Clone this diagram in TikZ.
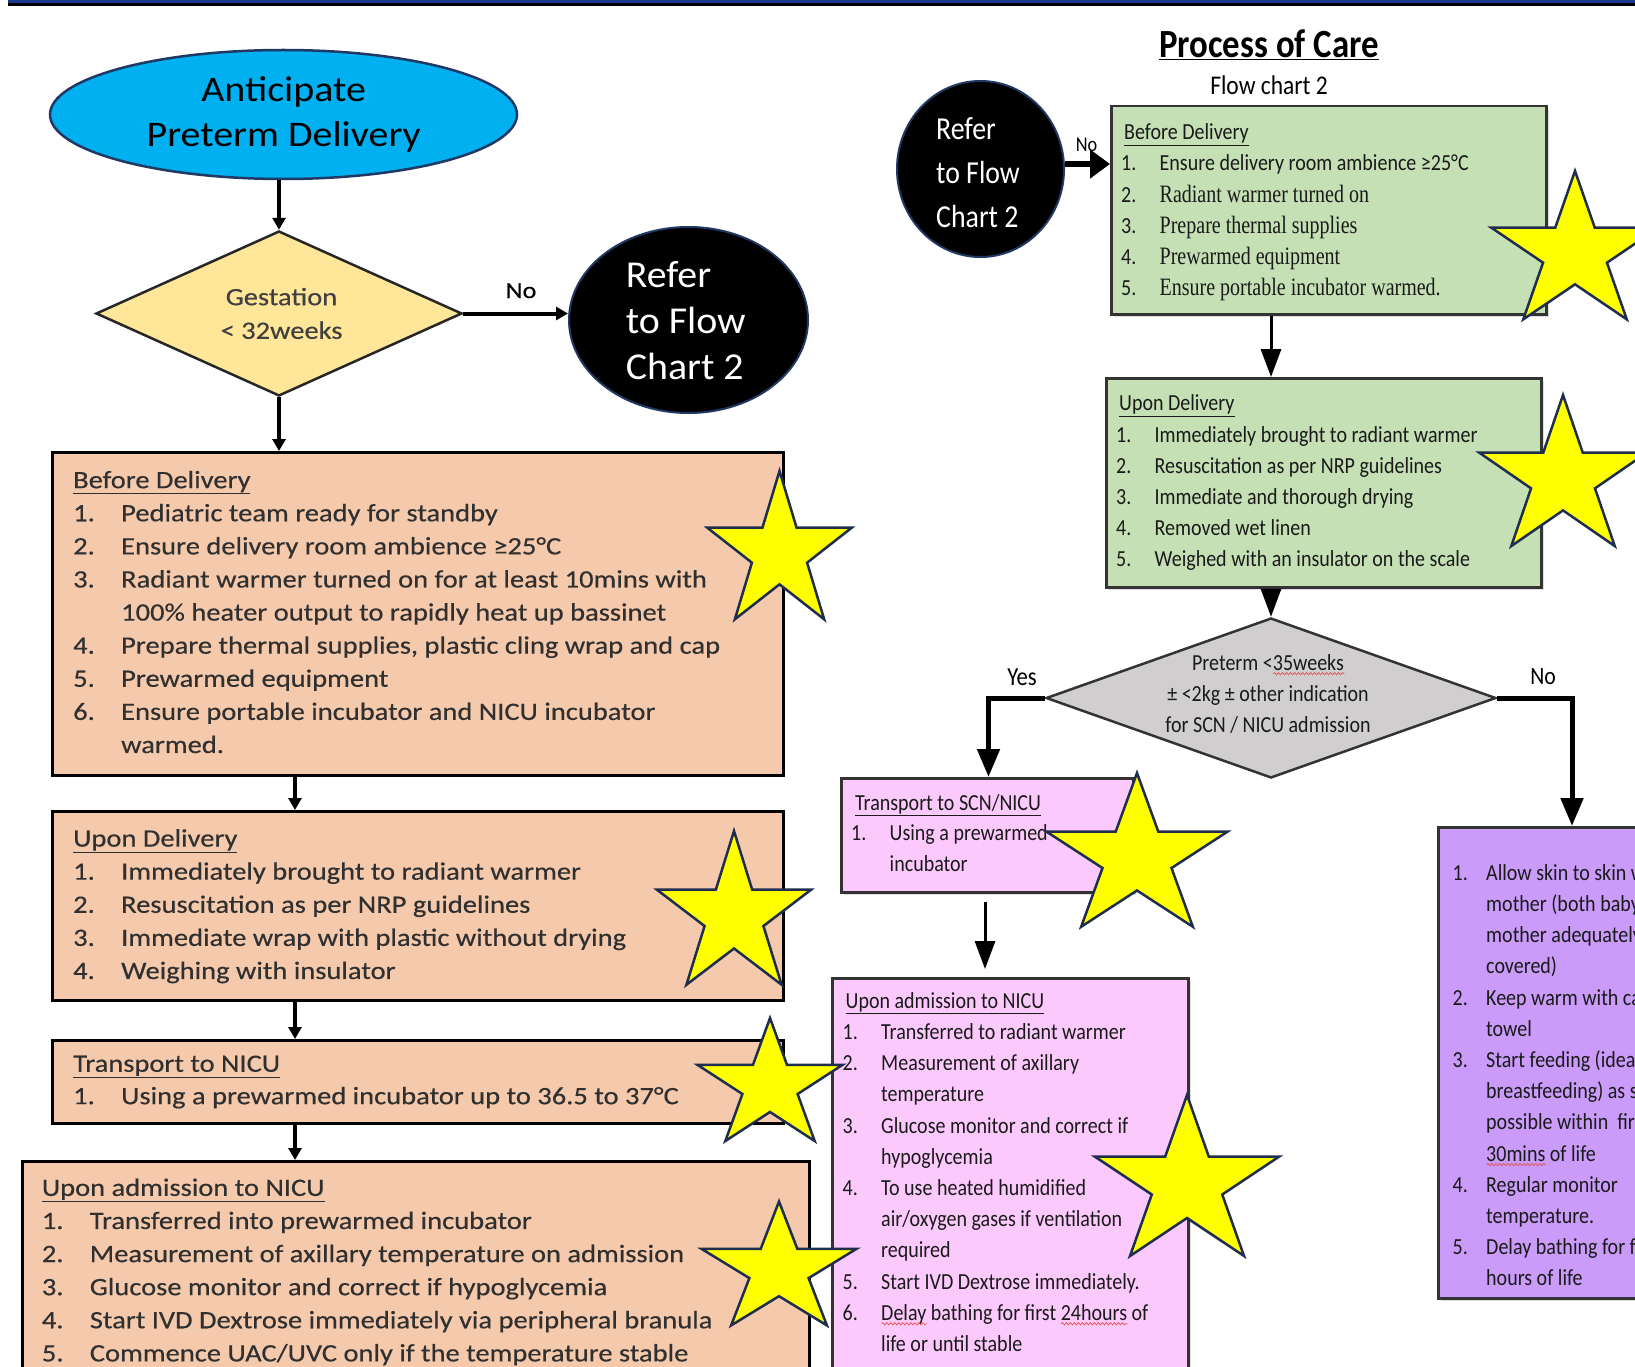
\documentclass[tikz,border=0pt]{standalone}
\usepackage{fontspec}
\usetikzlibrary{arrows.meta,shapes.geometric,shadows,decorations.pathmorphing}
\setmainfont{Carlito}
\newfontfamily\Lf[FakeStretch=1.14,FakeBold=0.4]{Carlito}
\newfontfamily\Rf[FakeStretch=0.87]{Carlito}
\newfontfamily\Rs[FakeStretch=0.8]{Liberation Serif}
\newfontfamily\Ef[FakeStretch=1.11]{Carlito}
\newfontfamily\Cf[FakeStretch=1.05]{Carlito}
\definecolor{cyanfill}{HTML}{00B0F0}
\definecolor{navyline}{HTML}{1F3864}
\definecolor{ydiam}{HTML}{FFE699}
\definecolor{peach}{HTML}{F5C9AB}
\definecolor{lgreen}{HTML}{C5E0B4}
\definecolor{lpink}{HTML}{FCC9FC}
\definecolor{lpurple}{HTML}{CA9BF9}
\definecolor{lgray}{HTML}{D0CECE}
\definecolor{staryel}{HTML}{FFFF00}
\definecolor{starline}{HTML}{1F2D4F}
\definecolor{barblue}{HTML}{1B3A8F}
\definecolor{sqred}{HTML}{E05050}
\definecolor{ltxt}{HTML}{303030}
\definecolor{rtxt}{HTML}{1A1A1A}
\newlength{\sqw}
\newcommand{\sq}[1]{\settowidth{\sqw}{#1}\rlap{\tikz[baseline=0pt]\draw[sqred, line width=0.7pt, decorate, decoration={snake, amplitude=1.1pt, segment length=4pt}] (0pt,-3.5pt) -- (\sqw,-3.5pt);}#1}
\newcommand{\nL}[1]{\makebox[48pt][l]{#1}}
\newcommand{\iL}{\hspace*{48pt}}
\newcommand{\nR}[1]{\makebox[38.5pt][l]{#1}}
\newcommand{\iR}{\hspace*{38.5pt}}
\newcommand{\nP}[1]{\makebox[33.5pt][l]{#1}}
\newcommand{\iP}{\hspace*{33.5pt}}
\newcommand{\RS}[1]{{\Rs\fontsize{25}{31.2}\selectfont #1}}
\newcommand{\Ystar}[4]{\draw[starsty,shift={(#1,#2)},xscale=#3,yscale=#4] (-90:1) -- (-54:0.382) -- (-18:1) -- (18:0.382) -- (54:1) -- (90:0.382) -- (126:1) -- (162:0.382) -- (198:1) -- (234:0.382) -- cycle;}
\tikzset{
 lbox/.style={draw=black, line width=3pt, fill=peach, rectangle, inner sep=0pt, anchor=north west},
 rbox/.style={draw=black!80, line width=2.5pt, rectangle, inner sep=0pt, anchor=north west, drop shadow={shadow xshift=3pt, shadow yshift=-3pt, fill=black!25}},
 ltext/.style={anchor=north west, inner sep=0pt, align=left, text=ltxt, font=\Lf\fontsize{25}{33.1}\selectfont},
 rtext/.style={anchor=north west, inner sep=0pt, align=left, text=rtxt, font=\Rf\fontsize{23}{31.2}\selectfont},
 larr/.style={line width=4pt, -{Triangle[length=12pt,width=13pt]}},
 rarr/.style={line width=3pt, -{Triangle[length=28pt,width=20pt]}},
 barr/.style={line width=5pt, -{Triangle[length=28pt,width=22pt]}},
 narr/.style={line width=6pt, -{Triangle[length=20pt,width=28pt]}},
 starsty/.style={fill=staryel, draw=starline, line width=2.5pt, line join=miter},
 lbl/.style={anchor=base, inner sep=0pt},
}
\begin{document}
\begin{tikzpicture}[x=1pt,y=-1pt]
\fill[white] (0,0) rectangle (1635,1367);
\useasboundingbox (0,0) rectangle (1635,1367);
\clip (0,0) rectangle (1635,1367);
% top bar
\fill[black] (8,0) rectangle (1635,6);
\fill[barblue] (8,0) rectangle (1635,3);

% ---------------- left column ----------------
\node[ellipse, draw=navyline, line width=2.5pt, fill=cyanfill, minimum width=467pt, minimum height=129pt, inner sep=0] (el) at (283.5,114.5) {};
\node[anchor=north, inner sep=0, align=center, font=\Ef\fontsize{36}{45}\selectfont] (elt) at (283.6,69.5) {\strut Anticipate\\Preterm Delivery};
\node[diamond, draw=black!85, line width=2.5pt, fill=ydiam, minimum width=366pt, minimum height=165pt, inner sep=0] (gd1) at (279,313.5) {};
\node[anchor=north, inner sep=0, align=center, text=black!75, font=\Lf\fontsize{25}{33.6}\selectfont] (gdt) at (281.5,281.5) {\strut Gestation\\< 32weeks};
\node[ellipse, fill=black, draw=navyline, line width=2pt, minimum width=239pt, minimum height=186pt, inner sep=0] (lc) at (688.5,320) {};
\node[anchor=north west, inner sep=0, align=left, text=white, font=\Cf\fontsize{38}{46}\selectfont] (lct) at (625.6,254.8) {\strut Refer\\to Flow\\Chart 2};
\node[lbl, font=\Lf\fontsize{23}{28}\selectfont] (no1) at (521,298) {No};

\node[lbox, minimum width=731pt, minimum height=323pt] (bd) at (51,451) {};
\node[ltext] (bdt) at (73,464.8) {\strut\underline{Before Delivery}\\
\nL{1.}Pediatric team ready for standby\\
\nL{2.}Ensure delivery room ambience ≥25°C\\
\nL{3.}Radiant warmer turned on for at least 10mins with\\
\iL 100\% heater output to rapidly heat up bassinet\\
\nL{4.}Prepare thermal supplies, plastic cling wrap and cap\\
\nL{5.}Prewarmed equipment\\
\nL{6.}Ensure portable incubator and NICU incubator\\
\iL warmed.};

\node[lbox, minimum width=731pt, minimum height=189pt] (ud) at (51,810) {};
\node[ltext] (udt) at (73,823.2) {\strut\underline{Upon Delivery}\\
\nL{1.}Immediately brought to radiant warmer\\
\nL{2.}Resuscitation as per NRP guidelines\\
\nL{3.}Immediate wrap with plastic without drying\\
\nL{4.}Weighing with insulator};

\node[lbox, minimum width=731pt, minimum height=83pt] (tn) at (51,1039) {};
\node[ltext, font=\Lf\fontsize{25}{32.4}\selectfont] (tnt) at (73,1048.9) {\strut\underline{Transport to NICU}\\
\nL{1.}Using a prewarmed incubator up to 36.5 to 37°C};

\node[lbox, minimum width=787pt, minimum height=260pt] (uan) at (21,1160) {};
\node[ltext] (uant) at (41.7,1172.5) {\strut\underline{Upon admission to NICU}\\
\nL{1.}Transferred into prewarmed incubator\\
\nL{2.}Measurement of axillary temperature on admission\\
\nL{3.}Glucose monitor and correct if hypoglycemia\\
\nL{4.}Start IVD Dextrose immediately via peripheral branula\\
\nL{5.}Commence UAC/UVC only if the temperature stable};

\coordinate (lx1) at (279,0);
\coordinate (lx2) at (295,0);
\draw[larr] (lx1 |- el.south) -- (lx1 |- gd1.north);
\draw[larr] (gd1.south) -- (lx1 |- bd.north);
\draw[larr] (lx2 |- bd.south) -- (lx2 |- ud.north);
\draw[larr] (lx2 |- ud.south) -- (lx2 |- tn.north);
\draw[larr] (lx2 |- tn.south) -- (lx2 |- uan.north);
\draw[larr] (gd1.east) -- (gd1.east -| lc.west);

% ---------------- right column ----------------
\node[lbl, font=\Rf\bfseries\fontsize{40}{48}\selectfont] (ttl) at (1269,58) {\underline{Process of Care}};
\node[lbl, font=\Rf\fontsize{27}{32}\selectfont] (sub) at (1269,95) {Flow chart 2};
\node[ellipse, fill=black, draw=navyline, line width=2pt, minimum width=167pt, minimum height=176pt, inner sep=0] (rc) at (980.5,169) {};
\node[anchor=north west, inner sep=0, align=left, text=white, font=\Rf\fontsize{32}{44}\selectfont] (rct) at (936,108.2) {\strut Refer\\to Flow\\Chart 2};
\node[lbl, font=\Rf\fontsize{21}{25}\selectfont] (no2) at (1086.5,152) {No};

\node[rbox, fill=lgreen, minimum width=435pt, minimum height=208pt] (gb) at (1110,105) {};
\node[rtext] (gbt) at (1121,117.7) {\strut\hspace*{3pt}\underline{Before Delivery}\\
\nR{1.}Ensure delivery room ambience ≥25°C\\
\nR{2.}\RS{Radiant warmer turned on}\\
\nR{3.}\RS{Prepare thermal supplies}\\
\nR{4.}\RS{Prewarmed equipment}\\
\nR{5.}\RS{Ensure portable incubator warmed.}};

\node[rbox, fill=lgreen, minimum width=435pt, minimum height=209pt] (gu) at (1105,377) {};
\node[rtext] (gut) at (1116,388.8) {\strut\hspace*{3pt}\underline{Upon Delivery}\\
\nR{1.}Immediately brought to radiant warmer\\
\nR{2.}Resuscitation as per NRP guidelines\\
\nR{3.}Immediate and thorough drying\\
\nR{4.}Removed wet linen\\
\nR{5.}Weighed with an insulator on the scale};

\node[diamond, draw=black!80, line width=2.5pt, fill=lgray, minimum width=450pt, minimum height=160pt, inner sep=0] (gd2) at (1271,698) {};
\node[anchor=north, inner sep=0, align=center, text=rtxt, font=\Rf\fontsize{23}{31}\selectfont] (gd2t) at (1268,648.3) {\strut Preterm <\sq{35weeks}\\± <2kg ± other indication\\for SCN / NICU admission};
\node[lbl, font=\Rf\fontsize{26}{30}\selectfont] (yes) at (1022,685) {Yes};
\node[lbl, font=\Rf\fontsize{25}{30}\selectfont] (no3) at (1543,684) {No};

\node[rbox, fill=lpink, minimum width=292pt, minimum height=114pt] (pt) at (840,777) {};
\node[rtext, font=\Rf\fontsize{23}{30.8}\selectfont] (ptt) at (851,788.4) {\strut\hspace*{4pt}\underline{Transport to SCN/NICU}\\
\nR{1.}Using a prewarmed\\
\iR incubator};

\node[rbox, fill=lpink, minimum width=356pt, minimum height=430pt] (pa) at (831,977) {};
\node[rtext] (pat) at (842.5,986.2) {\strut\hspace*{3pt}\underline{Upon admission to NICU}\\
\nR{1.}Transferred to radiant warmer\\
\nR{2.}Measurement of axillary\\
\iR temperature\\
\nR{3.}Glucose monitor and correct if\\
\iR hypoglycemia\\
\nR{4.}To use heated humidified\\
\iR air/oxygen gases if ventilation\\
\iR required\\
\nR{5.}Start IVD Dextrose immediately.\\
\nR{6.}\sq{Delay} bathing for first \sq{24hours} of\\
\iR life or until stable};

\node[rbox, fill=lpurple, minimum width=230pt, minimum height=471pt] (pu) at (1437,826) {};
\node[rtext] (put) at (1452.5,858.2) {\strut\nP{1.}Allow skin to skin w\\
\iP mother (both baby\\
\iP mother adequately\\
\iP covered)\\
\nP{2.}Keep warm with ca\\
\iP towel\\
\nP{3.}Start feeding (idea\\
\iP breastfeeding) as s\\
\iP possible within\ \ fir\\
\iP \sq{30mins} of life\\
\nP{4.}Regular monitor\\
\iP temperature.\\
\nP{5.}Delay bathing for f\\
\iP hours of life};

\coordinate (ra) at (0,164);
\draw[narr] (rc.east |- ra) -- (gb.west |- ra);
\coordinate (gx) at (1271,0);
\draw[rarr] (gx |- gb.south) -- (gx |- gu.north);
\draw[rarr] (gx |- gu.south) -- (gd2.north);
\coordinate (yx) at (988.5,0);
\draw[barr] (gd2.west) -| (yx |- pt.north);
\coordinate (nx) at (1572,0);
\draw[barr] (gd2.east) -| (nx |- pu.north);
\coordinate (tx) at (985,0);
\draw[rarr, shorten <=8pt, shorten >=8pt] (tx |- pt.south) -- (tx |- pa.north);

% ---------------- stars ----------------
\Ystar{779.5}{553}{76}{82}
\Ystar{734}{916}{81}{85}
\Ystar{770}{1086}{76}{68}
\Ystar{779}{1270}{81.5}{68.5}
\Ystar{1575}{253}{88}{82}
\Ystar{1563}{478.5}{88}{83.5}
\Ystar{1137}{858}{95}{85}
\Ystar{1187}{1184}{97}{89}
\end{tikzpicture}
\end{document}
